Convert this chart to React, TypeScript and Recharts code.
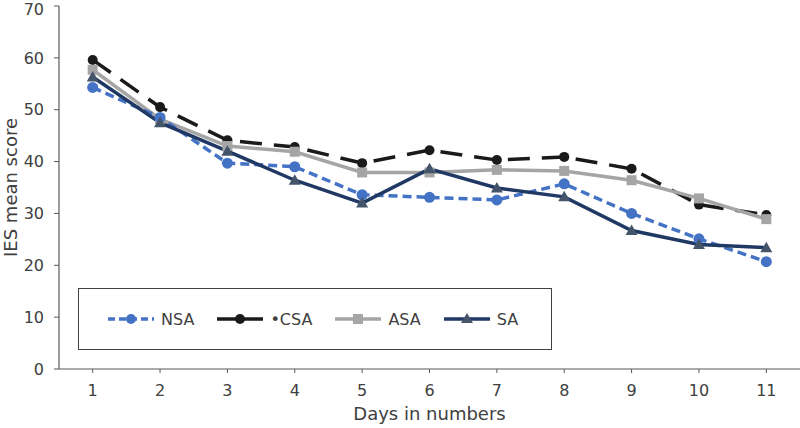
import React from "react";
import { LineChart, Line, XAxis, YAxis, Label } from "recharts";

const days = [1, 2, 3, 4, 5, 6, 7, 8, 9, 10, 11];
const nsa = [54.3, 48.5, 39.7, 39.0, 33.6, 33.1, 32.6, 35.7, 30.0, 25.1, 20.7];
const csa = [59.6, 50.5, 44.1, 42.8, 39.7, 42.2, 40.3, 40.9, 38.6, 31.7, 29.7];
const asa = [57.7, 48.2, 43.0, 41.9, 37.9, 37.9, 38.4, 38.2, 36.4, 32.9, 28.9];
const sa = [56.3, 47.5, 42.0, 36.4, 32.0, 38.6, 34.9, 33.2, 26.7, 24.0, 23.4];
const yTicks = [0, 10, 20, 30, 40, 50, 60, 70];

const data = days.map((d, i) => ({
  day: d,
  NSA: nsa[i],
  CSA: csa[i],
  ASA: asa[i],
  SA: sa[i],
}));

const FONT = "Verdana, 'DejaVu Sans', sans-serif";

const Triangle = (props: any) => {
  const { cx, cy, fill } = props;
  if (cx == null || cy == null) return null;
  return (
    <path
      d={`M${cx},${cy - 6} L${cx + 6},${cy + 4.5} L${cx - 6},${cy + 4.5} Z`}
      fill={fill}
    />
  );
};

const Square = (props: any) => {
  const { cx, cy, fill } = props;
  if (cx == null || cy == null) return null;
  return <rect x={cx - 5} y={cy - 5} width={10} height={10} fill={fill} />;
};

const legendItems = [
  { name: "NSA", color: "#4472C4", dash: "7 4", marker: "circle" },
  { name: "\u2022CSA", color: "#1a1a1a", dash: "", marker: "circle" },
  { name: "ASA", color: "#A5A5A5", dash: "", marker: "square" },
  { name: "SA", color: "#203864", dash: "", marker: "triangle" },
];

const LegendBox = () => (
  <div
    style={{
      position: "absolute",
      left: 78,
      top: 288,
      width: 474,
      height: 62,
      border: "1.5px solid #404040",
      display: "flex",
      alignItems: "center",
      boxSizing: "border-box",
      paddingLeft: 28,
      fontFamily: FONT,
      fontSize: 16,
      color: "#404040",
      background: "#fff",
    }}
  >
    {legendItems.map((it) => (
      <div key={it.name} style={{ display: "flex", alignItems: "center", marginRight: 22 }}>
        <svg width={48} height={14}>
          <line
            x1={1}
            y1={7}
            x2={47}
            y2={7}
            stroke={it.color}
            strokeWidth={3.5}
            strokeDasharray={it.dash || undefined}
          />
          {it.marker === "circle" && <circle cx={24} cy={7} r={5} fill={it.color} />}
          {it.marker === "square" && <rect x={19} y={2} width={10} height={10} fill={it.color} />}
          {it.marker === "triangle" && <path d="M24,1 L30,11 L18,11 Z" fill="#44546A" />}
        </svg>
        <span style={{ marginLeft: 6 }}>{it.name}</span>
      </div>
    ))}
  </div>
);

export default function App() {
  return (
    <div style={{ position: "absolute", left: 0, top: 0, width: 800, height: 428, background: "#fff" }}>
      <LineChart
        width={800}
        height={428}
        data={data}
        margin={{ top: 6, right: 0, bottom: 29, left: 14 }}
      >
        <XAxis
          dataKey="day"
          type="number"
          domain={[0.5, 11.5]}
          ticks={days}
          axisLine={{ stroke: "#595959", strokeWidth: 1.2 }}
          tickLine={{ stroke: "#595959" }}
          tickSize={4}
          tickMargin={12}
          height={30}
          tick={{ fill: "#404040", fontSize: 16, fontFamily: FONT }}
        >
          <Label
            value="Days in numbers"
            position="bottom"
            offset={8}
            style={{ fill: "#404040", fontSize: 18, fontFamily: FONT }}
          />
        </XAxis>
        <YAxis
          domain={[0, 70]}
          ticks={yTicks}
          width={45}
          axisLine={{ stroke: "#595959", strokeWidth: 1.2 }}
          tickLine={{ stroke: "#595959" }}
          tickSize={5}
          tickMargin={10}
          tick={{ fill: "#404040", fontSize: 16, fontFamily: FONT }}
        >
          <Label
            value="IES mean score"
            angle={-90}
            position="insideLeft"
            offset={-3}
            style={{ fill: "#404040", fontSize: 18, fontFamily: FONT, textAnchor: "middle" }}
          />
        </YAxis>
        <Line
          dataKey="CSA"
          stroke="#1a1a1a"
          strokeWidth={3.5}
          strokeDasharray="22 12"
          dot={{ r: 5, fill: "#1a1a1a", stroke: "none" }}
          isAnimationActive={false}
        />
        <Line
          dataKey="ASA"
          stroke="#A5A5A5"
          strokeWidth={3.5}
          dot={<Square fill="#A5A5A5" />}
          isAnimationActive={false}
        />
        <Line
          dataKey="NSA"
          stroke="#4472C4"
          strokeWidth={3.5}
          strokeDasharray="9 5"
          dot={{ r: 5.5, fill: "#4472C4", stroke: "none" }}
          isAnimationActive={false}
        />
        <Line
          dataKey="SA"
          stroke="#203864"
          strokeWidth={3.5}
          dot={<Triangle fill="#44546A" />}
          isAnimationActive={false}
        />
      </LineChart>
      <LegendBox />
    </div>
  );
}
